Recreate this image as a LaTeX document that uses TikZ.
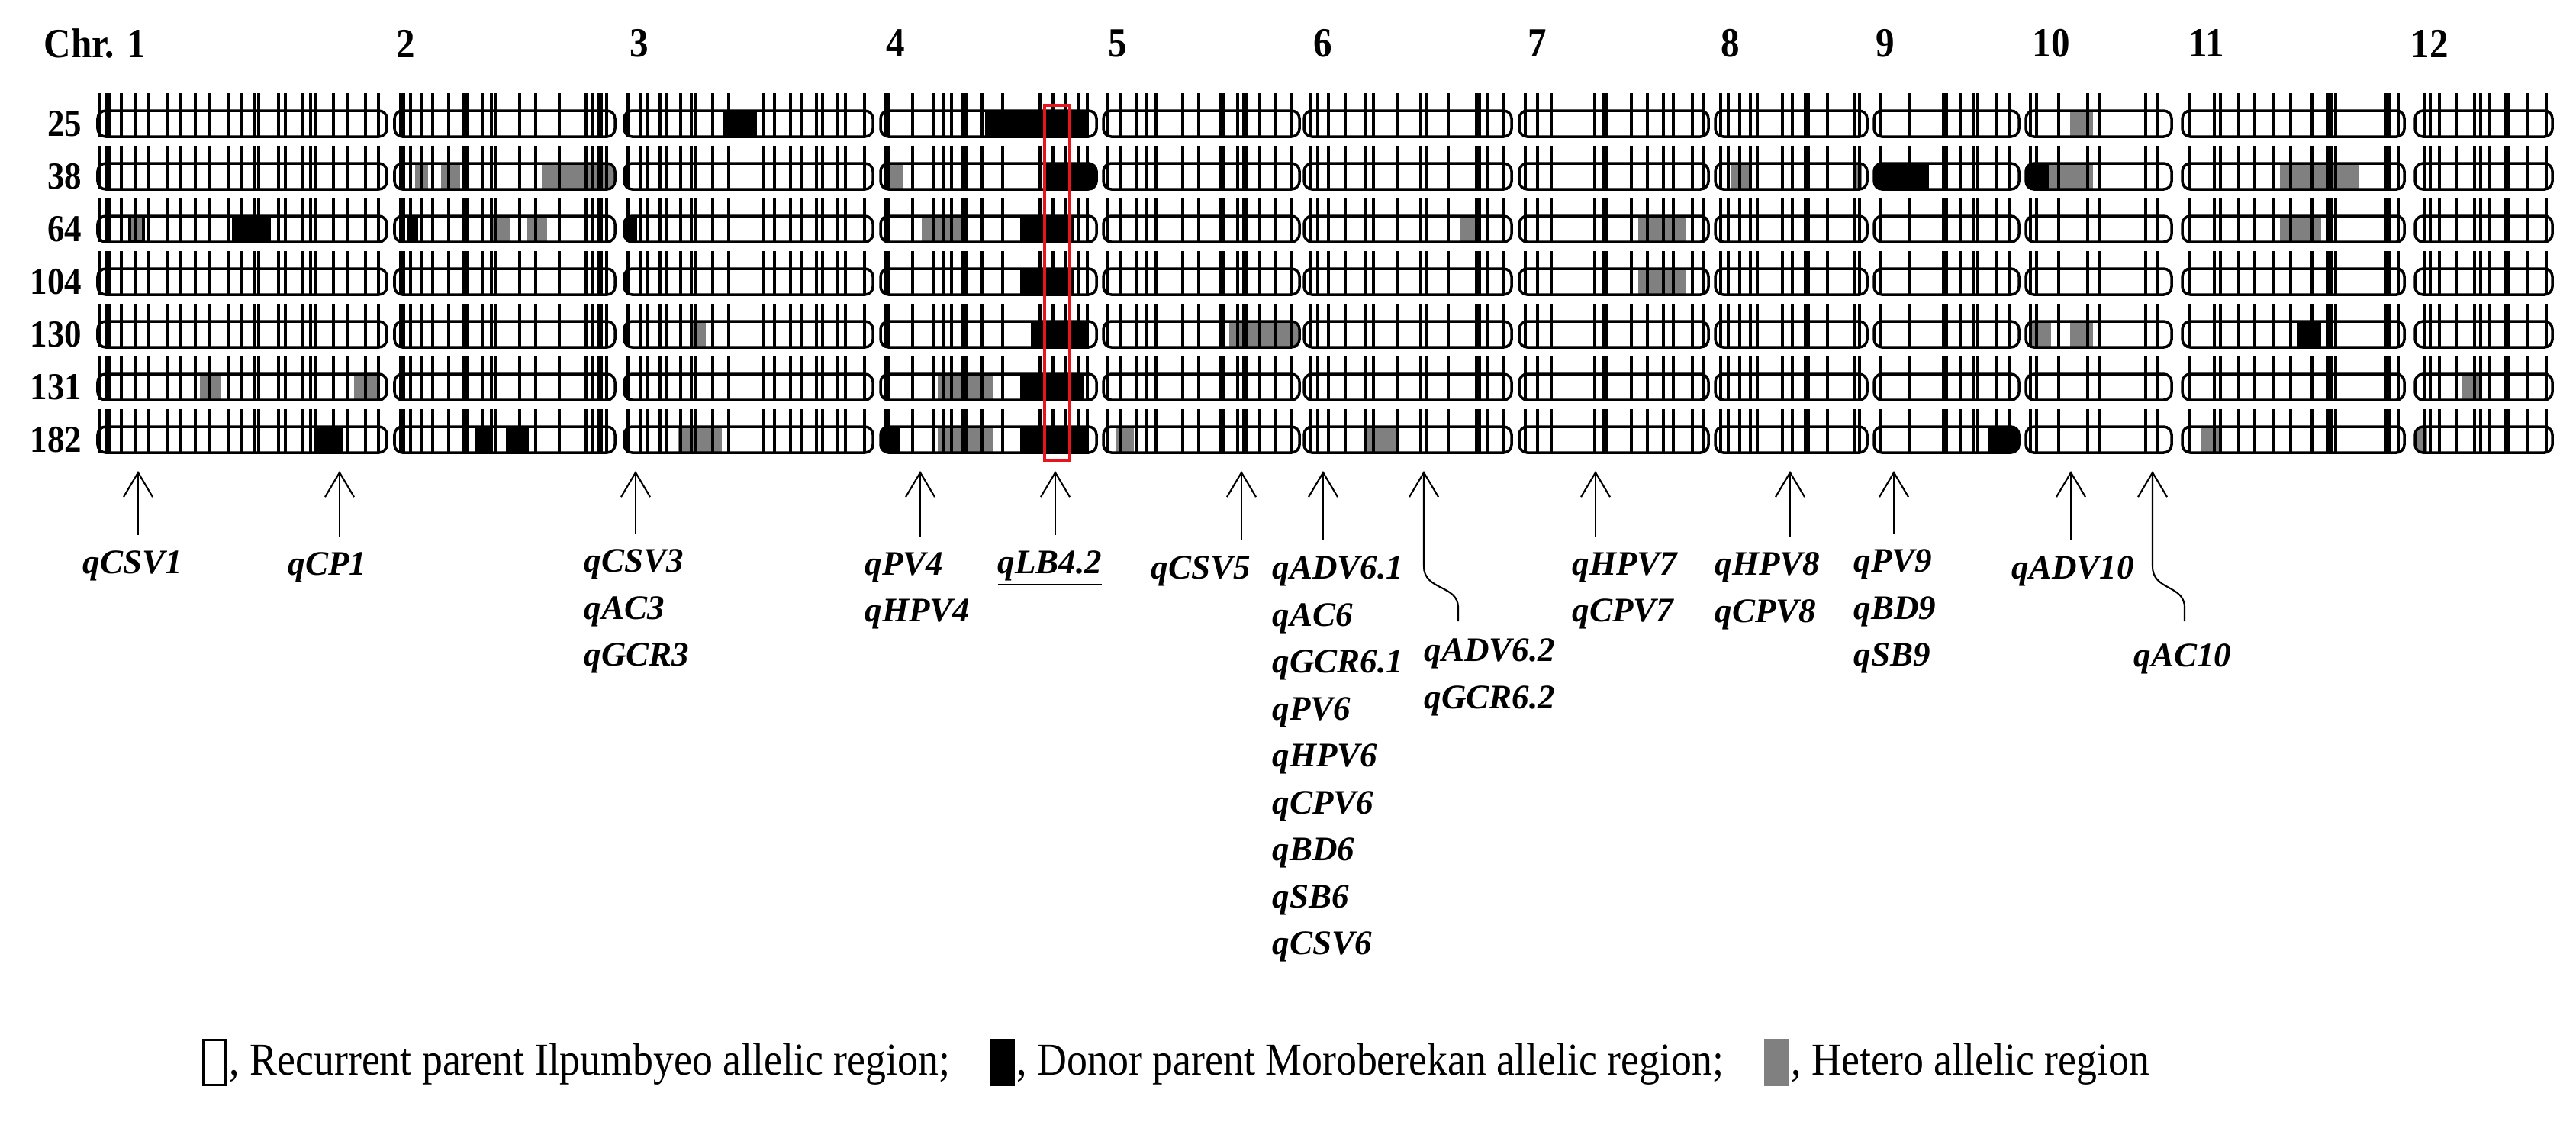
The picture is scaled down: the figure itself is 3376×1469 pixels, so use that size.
\documentclass[tikz,border=0pt]{standalone}
\usepackage{fontspec}
\setmainfont{Liberation Serif}
\newfontfamily\condserif[FakeStretch=0.9]{Liberation Serif}
\usepackage{xcolor}
\definecolor{hetGray}{HTML}{808080}
\definecolor{markRed}{HTML}{E8141B}
\usepackage{tikz}
\usetikzlibrary{arrows.meta,positioning,calc}

\begin{document}
\begin{tikzpicture}[x=0.01cm,y=-0.01cm,
  chrlab/.style={anchor=west,inner sep=0pt,font=\condserif\fontsize{15.5}{17}\selectfont\bfseries},
  rowlab/.style={anchor=east,inner sep=0pt,font=\condserif\fontsize{14.2}{16}\selectfont\bfseries},
  body/.style={draw,line width=1pt,rounded corners=3pt},
  tick/.style={line width=1pt},
  tickb/.style={line width=2.1pt},
  don/.style={fill=black},
  het/.style={fill=hetGray},
  hetb/.style={fill=hetGray,draw=black,line width=1.4pt},
  qlab/.style={anchor=north west,inner sep=0pt,align=left,
               font=\fontsize{12.8}{17.5}\selectfont\bfseries\itshape},
  qarr/.style={-{Straight Barb[length=0.32cm,width=0.38cm]},line width=0.6pt},
  legbox/.style={draw,line width=0.9pt,minimum width=0.28cm,minimum height=0.59cm,inner sep=0pt},
  legtxt/.style={anchor=base west,inner sep=0pt,font=\condserif\fontsize{17}{19}\selectfont}
]
\useasboundingbox (0,0) rectangle (3376,1469);

% chromosome numbers
\node[chrlab] (c1) at (57,57) {Chr. 1};
\foreach \n/\x in {2/519,3/825,4/1161,5/1452,6/1721,7/2002,8/2255,9/2458,10/2663,11/2868,12/3159}
  \node[chrlab] (c\n) at (\x,57) {\n};

% BC lines
\foreach \r/\y in {25/162,38/231,64/300,104/369,130/438,131/507,182/576}
  \node[rowlab] (r\r) at (108,\y) {\r};

% introgressed segments (chromosome/line/from/to/type)
\foreach \c/\r/\xa/\xb/\kind in {
  1/3/170/188/hetb, 1/3/304/355/don, 1/6/262/289/het, 1/6/464/496/het, 1/7/412/450/don,
  2/2/544/561/het, 2/2/578/603/het, 2/2/710/810/het, 2/3/533/548/don, 2/3/644/668/het,
  2/3/691/717/het, 2/7/622/645/don, 2/7/663/693/don,
  3/1/948/992/don, 3/3/810/835/don, 3/5/908/925/het, 3/7/888/946/het,
  4/1/1291/1427/don, 4/2/1165/1183/het, 4/2/1370/1440/don, 4/3/1208/1268/het,
  4/3/1337/1408/don, 4/4/1337/1408/don, 4/5/1351/1427/don, 4/6/1229/1301/het,
  4/6/1337/1420/don, 4/7/1150/1180/don, 4/7/1229/1301/het, 4/7/1337/1427/don,
  5/5/1611/1706/het, 5/7/1462/1486/het,
  6/3/1914/1935/het, 6/7/1792/1832/het,
  7/3/2147/2209/het, 7/4/2147/2209/het,
  8/2/2268/2292/het, 8/2/2430/2440/het,
  9/2/2450/2528/don, 9/7/2606/2650/don,
  10/1/2713/2743/het, 10/2/2650/2685/don, 10/2/2685/2743/het, 10/5/2661/2688/het,
  10/5/2713/2743/het,
  11/2/2988/3091/het, 11/3/2988/3042/het, 11/5/3011/3042/don, 11/7/2884/2908/het,
  12/6/3227/3251/het, 12/7/3160/3181/het}{
  \pgfmathsetmacro\L{{128,517,818,1154,1446,1709,1991,2248,2456,2655,2860,3165}[\c-1]}
  \pgfmathsetmacro\R{{507,806,1144,1437,1703,1981,2239,2447,2646,2846,3151,3345}[\c-1]}
  \pgfmathsetmacro\yc{162+69*(\r-1)}
  \begin{scope}
    \clip[rounded corners=3pt] (\L,\yc-17) rectangle (\R,\yc+17);
    \path[\kind] (\xa,\yc-17) rectangle (\xb,\yc+17);
  \end{scope}
}

% marker positions
\foreach \yc in {162,231,300,369,438,507,576}{
  \foreach \t in {131,159,177,195,219,236,256,275,299,316,334,339,365,374,396,407,414,437,455,479,496,
    538,552,567,588,632,644,649,681,702,733,768,777,795,
    823,839,848,865,873,892,906,911,934,955,1001,1015,1036,1051,1070,1078,1097,1108,1133,
    1196,1224,1237,1247,1261,1266,1287,1314,1363,1380,1397,1414,1425,
    1452,1469,1490,1502,1515,1550,1571,1622,1651,1672,1693,
    1717,1727,1741,1763,1790,1800,1832,1862,1870,1898,1950,1970,
    1999,2015,2033,2090,2138,2159,2180,2193,2218,2232,
    2255,2265,2280,2294,2303,2336,2349,2395,2430,2437,
    2464,2502,2569,2587,2592,2617,2634,
    2661,2669,2698,2736,2751,2812,2828,
    2870,2902,2910,2934,2955,2980,3002,3030,3061,3143,
    3177,3185,3197,3219,3243,3251,3263,3313,3337}
    \draw[tick] (\t,\yc-40) -- (\t,\yc+17);
  \foreach \t in {141,527,610,786,1163,1601,1632,1937,2104,2368,2549,3053,3129,3285}
    \draw[tickb] (\t,\yc-40) -- (\t,\yc+17);
  \foreach \L/\R in {128/507,517/806,818/1144,1154/1437,1446/1703,1709/1981,
    1991/2239,2248/2447,2456/2646,2655/2846,2860/3151,3165/3345}
    \draw[body] (\L,\yc-17) rectangle (\R,\yc+17);
}

% qLB4.2 column
\draw[markRed,line width=1pt] (1369,138) rectangle (1402,603);

% QTL names
\node[qlab] (lCSV1) at (108,721) {qCSV1};
\node[qlab] (lCP1) at (377,723) {qCP1};
\node[qlab] (lCSV3) at (765,719) {qCSV3\\qAC3\\qGCR3};
\node[qlab] (lPV4) at (1133,723) {qPV4\\qHPV4};
\node[qlab] (lLB42) at (1307,721) {\underline{qLB4.2}};
\node[qlab] (lCSV5) at (1508,728) {qCSV5};
\node[qlab] (lADV61) at (1667,728) {qADV6.1\\qAC6\\qGCR6.1\\qPV6\\qHPV6\\qCPV6\\qBD6\\qSB6\\qCSV6};
\node[qlab] (lADV62) at (1866,836) {qADV6.2\\qGCR6.2};
\node[qlab] (lHPV7) at (2060,723) {qHPV7\\qCPV7};
\node[qlab] (lHPV8) at (2247,723) {qHPV8\\qCPV8};
\node[qlab] (lPV9) at (2429,719) {qPV9\\qBD9\\qSB9};
\node[qlab] (lADV10) at (2636,728) {qADV10};
\node[qlab] (lAC10) at (2796,843) {qAC10};

% arrow tips on the chromosomes
\foreach \q/\x in {CSV1/181,CP1/445,CSV3/833,PV4/1206,LB42/1383,CSV5/1627,ADV61/1734,
  ADV62/1866,HPV7/2091,HPV8/2346,PV9/2482,ADV10/2714,AC10/2821}
  \coordinate (t\q) at (\x,617);
\coordinate (bADV62) at (1911,814);
\coordinate (bAC10) at (2863,814);

\foreach \q in {CSV1,CP1,CSV3,PV4,LB42,CSV5,ADV61,HPV7,HPV8,PV9,ADV10}
  \draw[qarr] ($(l\q.north -| t\q)+(0,-20)$) -- (t\q);
\draw[qarr] (bADV62) -- ++(0,-18) .. controls +(0,-30) and +(0,32) .. ($(tADV62)+(0,125)$) -- (tADV62);
\draw[qarr] (bAC10) -- ++(0,-18) .. controls +(0,-30) and +(0,32) .. ($(tAC10)+(0,125)$) -- (tAC10);

% legend
\node[legbox,fill=white] (kRec) at (281,1392) {};
\node[legtxt] (tRec) at (300,1408) {, Recurrent parent Ilpumbyeo allelic region;};
\node[legbox,fill=black] (kDon) at (1314,1392) {};
\node[legtxt] (tDon) at (1332,1408) {, Donor parent Moroberekan allelic region;};
\node[legbox,fill=hetGray,draw=hetGray] (kHet) at (2328,1392) {};
\node[legtxt] (tHet) at (2347,1408) {, Hetero allelic region};
\end{tikzpicture}
\end{document}
